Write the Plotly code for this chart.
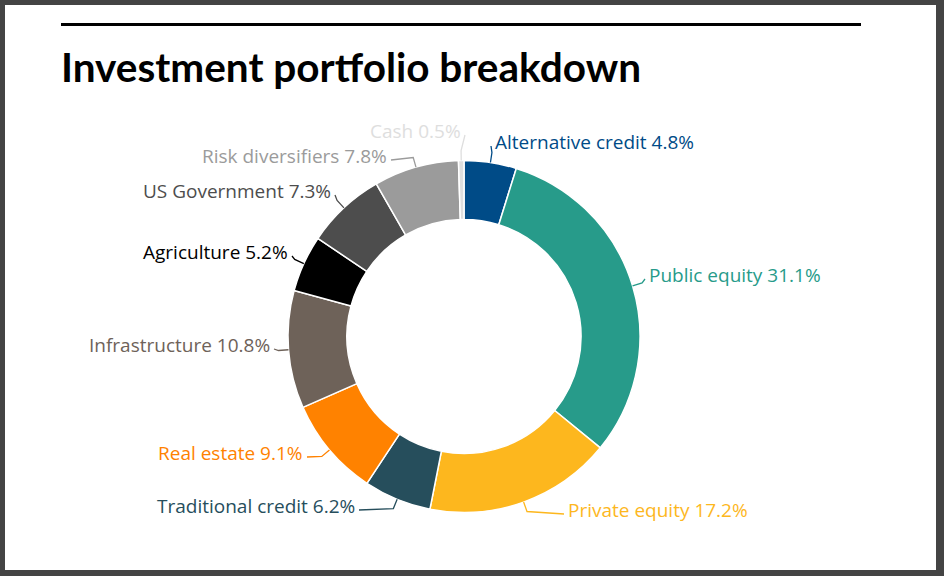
import math
import plotly.graph_objects as go

# ---- data ----
categories = ["Alternative credit", "Public equity", "Private equity", "Traditional credit",
              "Real estate", "Infrastructure", "Agriculture", "US Government",
              "Risk diversifiers", "Cash"]
values = [4.8, 31.1, 17.2, 6.2, 9.1, 10.8, 5.2, 7.3, 7.8, 0.5]
colors = ["#004B87", "#279B8A", "#FDB71E", "#264E5C", "#FF8200",
          "#6E6259", "#000000", "#4D4D4D", "#9B9B9B", "#DEDEDE"]

# ---- layout geometry (pixels) ----
W, H = 944, 576
CX, CY, R = 464, 336.5, 176
HOLE = 0.665

# label placement (pixel anchor x, pixel middle y, side)
label_pos = [(493, 142, "left"), (647, 275, "left"), (566, 510, "left"), (357, 506, "right"),
             (305, 453, "right"), (272, 345, "right"), (290, 252, "right"), (333, 191, "right"),
             (389, 156, "right"), (463, 131, "right")]


def px(x):
    return x / W


def py(y):
    return 1 - y / H


fig = go.Figure()
fig.add_trace(go.Pie(
    labels=categories, values=values, sort=False, direction="clockwise", rotation=0,
    hole=HOLE, marker=dict(colors=colors, line=dict(color="white", width=1.5)),
    textinfo="none", hoverinfo="label+percent", showlegend=False,
    domain=dict(x=[px(CX - R), px(CX + R)], y=[py(CY + R), py(CY - R)]),
))

shapes = [
    dict(type="rect", xref="paper", yref="paper", x0=px(5), x1=px(936), y0=py(570), y1=py(5),
         fillcolor="white", line=dict(width=0), layer="below"),
    dict(type="line", xref="paper", yref="paper", x0=px(61), x1=px(861), y0=py(24.5), y1=py(24.5),
         line=dict(color="black", width=3)),
]
annotations = [
    dict(text="<b>Investment portfolio breakdown</b>", xref="paper", yref="paper",
         x=px(59), y=py(66), xanchor="left", yanchor="middle", showarrow=False,
         font=dict(family="Lato", size=40.5, color="black")),
]

total = sum(values)
cum = 0
for cat, v, col, (lx, ly, side) in zip(categories, values, colors, label_pos):
    mid = (cum + v / 2) / total * 2 * math.pi
    cum += v
    ux, uy = math.sin(mid), -math.cos(mid)
    p0 = (CX + R * ux, CY + R * uy)
    p1 = (CX + (R + 10) * ux, CY + (R + 10) * uy)
    ex = lx - 2 if side == "left" else lx + 2
    p2 = (ex, ly + 4)
    path = "M {:.5f},{:.5f} L {:.5f},{:.5f} L {:.5f},{:.5f}".format(
        px(p0[0]), py(p0[1]), px(p1[0]), py(p1[1]), px(p2[0]), py(p2[1]))
    shapes.append(dict(type="path", xref="paper", yref="paper", path=path,
                       line=dict(color=col, width=1.3)))
    pct = "{:.1f}%".format(v / total * 100)
    annotations.append(dict(text=f"{cat} {pct}", xref="paper", yref="paper",
                            x=px(lx), y=py(ly), xanchor=side, yanchor="middle",
                            showarrow=False, font=dict(family="Open Sans", size=19, color=col)))

fig.update_layout(
    width=W, height=H, margin=dict(l=0, r=0, t=0, b=0),
    paper_bgcolor="#444444", plot_bgcolor="white",
    shapes=shapes, annotations=annotations,
)
fig.write_html("out.html", config={"displayModeBar": False},
               post_script="document.body.style.margin='0';")
